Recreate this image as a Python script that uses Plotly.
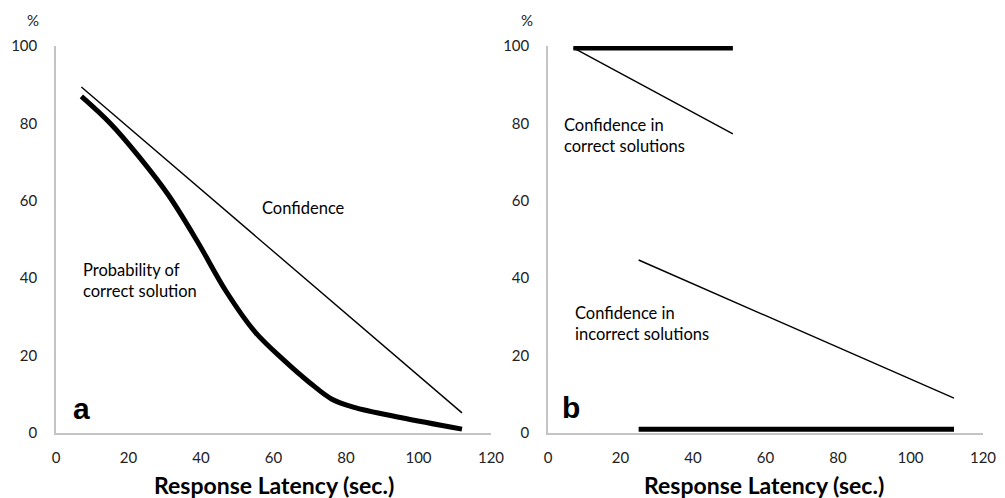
import plotly.graph_objects as go
from plotly.subplots import make_subplots

# Panel a
conf_x = [7, 112]
conf_y = [89.4, 5.2]
prob_x = [7, 15, 23, 31, 39, 47, 55, 63, 70, 76, 82, 95, 112]
prob_y = [87, 80, 71.3, 61.5, 49.5, 36.5, 26, 18.7, 13, 8.8, 6.7, 4, 1]

# Panel b
corr_prob_x = [7, 51]
corr_prob_y = [99.5, 99.5]
corr_conf_x = [7, 51]
corr_conf_y = [99.5, 77.3]
inc_conf_x = [25, 112]
inc_conf_y = [44.7, 9]
inc_prob_x = [25, 112]
inc_prob_y = [1, 1]

x_ticks = [0, 20, 40, 60, 80, 100, 120]
y_ticks = [0, 20, 40, 60, 80, 100]

FONT = "Lato"
OFF = 8  # browser body margin

# page-pixel layout
PL, PR, PT, PB = 56, 983, 46, 433
FW, FH = 1005 - OFF, 498 - OFF
ML, MR, MT, MB = PL - OFF, FW - (PR - OFF), PT - OFF, FH - (PB - OFF)

fig = make_subplots(rows=1, cols=2, horizontal_spacing=57 / (PR - PL))

def line(x, y, w, col, shape="linear"):
    fig.add_trace(go.Scatter(x=x, y=y, mode="lines", cliponaxis=False,
                             line=dict(color="black", width=w, shape=shape, smoothing=1.0),
                             showlegend=False, hoverinfo="skip"), row=1, col=col)

line(conf_x, conf_y, 1.4, 1)
line(prob_x, prob_y, 5, 1, "spline")
line(corr_conf_x, corr_conf_y, 1.4, 2)
line(corr_prob_x, corr_prob_y, 5, 2)
line(inc_conf_x, inc_conf_y, 1.4, 2)
line(inc_prob_x, inc_prob_y, 5, 2)

for c in (1, 2):
    fig.update_xaxes(range=[0, 120], tickvals=x_ticks, showgrid=False, zeroline=False,
                     showline=True, linecolor="#c4c4c4", linewidth=1.5, ticks="",
                     ticklabelstandoff=10, tickfont=dict(family=FONT, size=15, color="#222"),
                     automargin=False, row=1, col=c)
    fig.update_yaxes(range=[0, 100], tickvals=y_ticks, showgrid=False, zeroline=False,
                     showline=True, linecolor="#c4c4c4", linewidth=1.5, ticks="",
                     ticklabelstandoff=14, tickfont=dict(family=FONT, size=15, color="#222"),
                     automargin=False, row=1, col=c)

ann = []
def txt(text, x, y, xref, yref, size=16.5, bold=False, xanchor="left", yanchor="middle"):
    ann.append(dict(text=text, x=x, y=y, xref=xref, yref=yref, showarrow=False,
                    xanchor=xanchor, yanchor=yanchor, align="left",
                    font=dict(family="Liberation Sans" if bold else FONT, size=size, color="black")))

txt("Confidence", 68.2, 58.1, "x", "y", xanchor="center")
txt("Probability of<br>correct solution", 7.0, 39.3, "x", "y")
txt("<b>a</b>", 4.2, 6.3, "x", "y", size=30, bold=True)
txt("Confidence in<br>correct solutions", 3.9, 77, "x2", "y2")
txt("Confidence in<br>incorrect solutions", 6.9, 28.4, "x2", "y2")
txt("<b>b</b>", 3.2, 6.5, "x2", "y2", size=30, bold=True)

W = PR - PL
H = PB - PT
def px(xp):
    return (xp - PL) / W
def py(yp):
    return (PB - yp) / H
for xp in (33, 527):
    ann.append(dict(text="%", x=px(xp), y=py(20), xref="paper", yref="paper", showarrow=False,
                    xanchor="center", yanchor="middle", font=dict(family=FONT, size=15, color="#222")))
for xp in (274, 764):
    ann.append(dict(text="<b>Response Latency (sec.)</b>", x=px(xp), y=py(485), xref="paper", yref="paper",
                    showarrow=False, xanchor="center", yanchor="middle",
                    font=dict(family=FONT, size=23, color="black")))

fig.update_layout(
    width=FW, height=FH,
    margin=dict(l=ML, r=MR, t=MT, b=MB, autoexpand=False),
    plot_bgcolor="white", paper_bgcolor="white",
    annotations=ann,
)
fig.write_html("out.html")
